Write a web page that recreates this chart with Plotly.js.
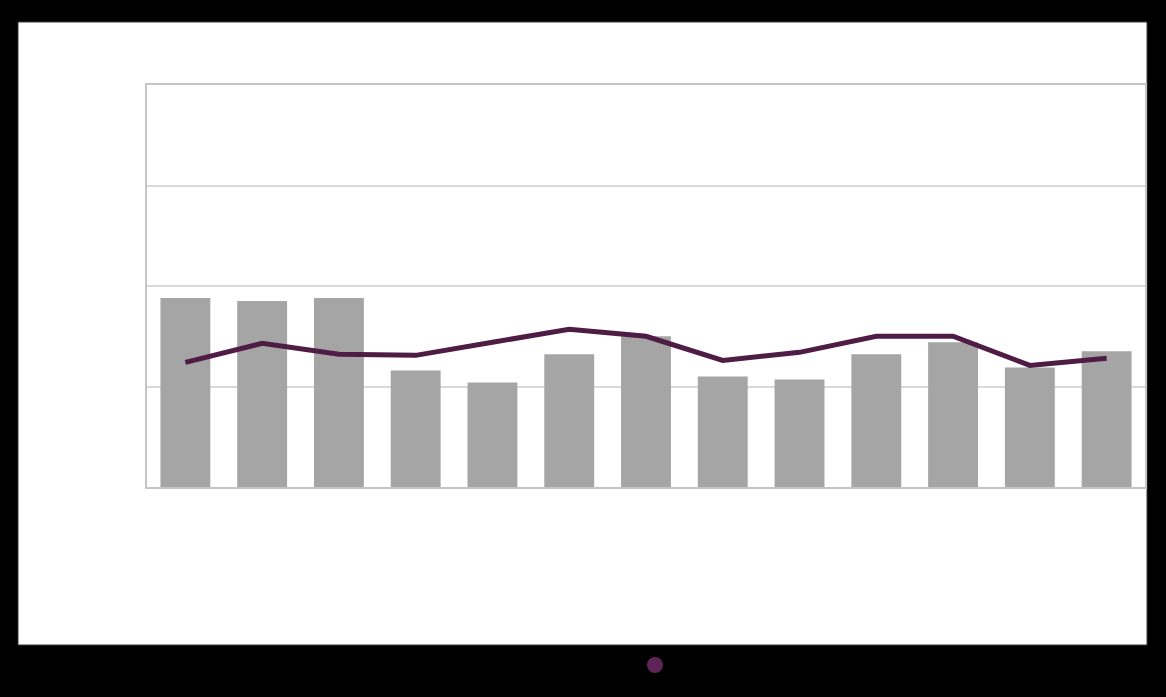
<!DOCTYPE html>
<html>
<head>
<meta charset="utf-8">
<script src="https://cdn.plot.ly/plotly-3.0.1.min.js"></script>
<style>html,body{margin:0;padding:0;background:#000;}#chart{width:1166px;height:697px;}</style>
</head>
<body>
<div id="chart"></div>
<script>
const categories = ["1","2","3","4","5","6","7","8","9","10","11","12","13"];
const barValues = [1.88, 1.85, 1.88, 1.16, 1.04, 1.32, 1.50, 1.10, 1.07, 1.32, 1.44, 1.19, 1.35];
const lineValues = [1.24, 1.43, 1.32, 1.31, 1.44, 1.57, 1.50, 1.26, 1.34, 1.50, 1.50, 1.21, 1.28];
const barName = "Série 1";
const lineName = "Série 2";

const traces = [
  {type:'bar', x:categories, y:barValues, name:barName, marker:{color:'#a5a5a5'}, showlegend:false, hoverinfo:'skip'},
  {type:'scatter', mode:'lines', x:categories, y:lineValues, name:lineName, line:{color:'#4e1c45', width:5}, showlegend:false, hoverinfo:'skip'},
  {type:'scatter', mode:'markers', x:[null], y:[null], name:lineName, marker:{color:'#5e2457', size:20}, showlegend:true}
];

const W = 1166, H = 697, L = 147, R = 1145, T = 85, B = 487;
const pw = R - L, ph = B - T;
const layout = {
  width: W, height: H,
  paper_bgcolor:'#000', plot_bgcolor:'rgba(0,0,0,0)',
  margin:{l:L, r:W-R, t:T, b:H-B, pad:0},
  bargap:0.35,
  font:{family:'Liberation Sans, Arial, sans-serif', color:'#000', size:12},
  xaxis:{type:'category', showticklabels:false, ticks:'', showgrid:false, showline:true, mirror:true, linecolor:'#c4c4c4', linewidth:2, zeroline:false},
  yaxis:{range:[0,4], dtick:1, showticklabels:false, ticks:'', showgrid:true, gridcolor:'#d9d9d9', gridwidth:2, showline:true, mirror:true, linecolor:'#c4c4c4', linewidth:2, zeroline:false},
  showlegend:true,
  legend:{orientation:'h', xref:'container', yref:'container', x:635/W, xanchor:'left', y:1-665/H, yanchor:'middle', font:{color:'#000', size:12}, bgcolor:'rgba(0,0,0,0)'},
  shapes:[{type:'rect', xref:'paper', yref:'paper', layer:'below',
    x0:(18-L)/pw, x1:(1147-L)/pw, y0:(B-645)/ph, y1:(B-22)/ph,
    fillcolor:'#ffffff', line:{color:'#3a3a3a', width:1}}]
};
Plotly.newPlot('chart', traces, layout, {displayModeBar:false, staticPlot:true});
</script>
</body>
</html>
